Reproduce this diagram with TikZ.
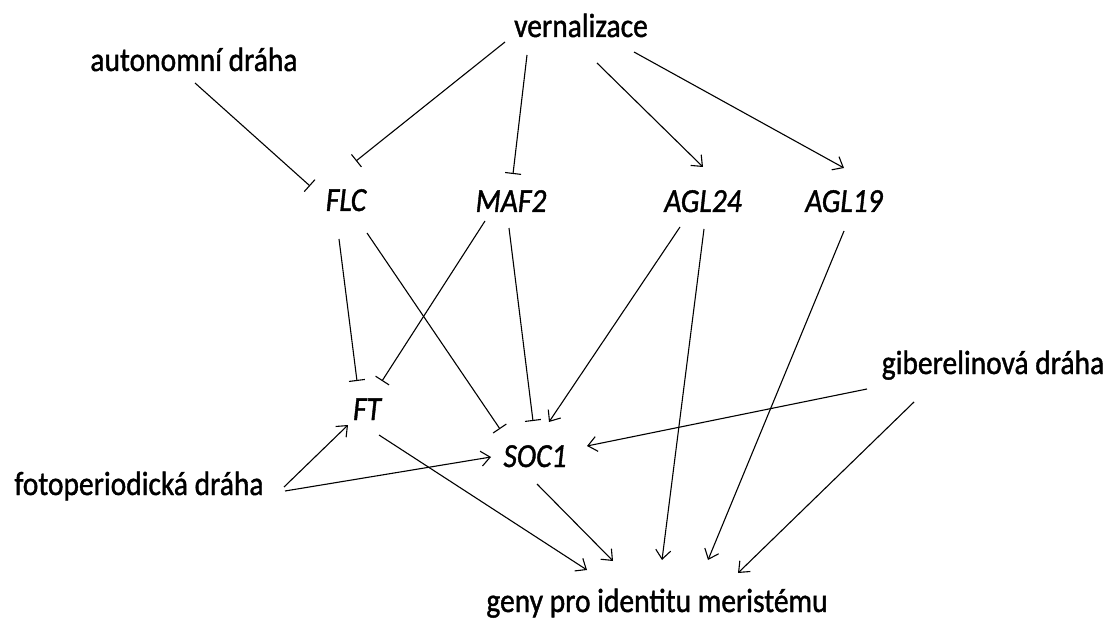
\documentclass[tikz,border=0pt]{standalone}
\usepackage{fontspec}
\setmainfont{Carlito}[FakeBold=1.3]
\usetikzlibrary{arrows.meta}
\newcommand{\vstr}[1]{\scalebox{1}[1.14]{#1}}
\begin{document}
\begin{tikzpicture}[x=1bp,y=-1bp,
  lbl/.style={inner sep=0pt, anchor=base, font=\fontsize{29.6}{34}\selectfont},
  gene/.style={lbl, font=\fontsize{29.6}{34}\selectfont\itshape},
  act/.style={line width=1.1bp, -{Straight Barb[length=9bp,width=15bp,line width=1.1bp]}},
  inh/.style={line width=1.1bp, -{Bar[width=16bp,line width=1.1bp]}}]
\useasboundingbox[fill=white] (0,0) rectangle (1113,623);
% nodes
\node[lbl] (vern) at (581,37) {\vstr{vernalizace}};
\node[lbl] (auto) at (194,71) {\vstr{autonomní dráha}};
\node[gene] (flc) at (346,211) {\vstr{FLC}};
\node[gene] (maf) at (511,212) {\vstr{MAF2}};
\node[gene] (agla) at (703,212) {\vstr{AGL24}};
\node[gene] (aglb) at (844,212) {\vstr{AGL19}};
\node[gene] (ft) at (367,420) {\vstr{FT}};
\node[gene] (soc) at (535,467) {\vstr{SOC1}};
\node[lbl] (gib) at (993,374) {\vstr{giberelinová dráha}};
\node[lbl] (foto) at (139,495) {\vstr{fotoperiodická dráha}};
\node[lbl] (geny) at (657,612) {\vstr{geny pro identitu meristému}};
% connectors
\draw[inh] ([shift={(1,12)}]auto.base) -- ([shift={(-36,-25)}]flc.base);
\draw[inh] ([shift={(-76,5)}]vern.base) -- ([shift={(10,-50)}]flc.base);
\draw[inh] ([shift={(-54,18)}]vern.base) -- ([shift={(2,-38)}]maf.base);
\draw[act] ([shift={(16,26)}]vern.base) -- ([shift={(0,-45)}]agla.base);
\draw[act] ([shift={(53,15)}]vern.base) -- ([shift={(0,-44)}]aglb.base);
\draw[inh] ([shift={(-7,28)}]flc.base) -- ([shift={(-10,-39)}]ft.base);
\draw[inh] ([shift={(-26,9)}]maf.base) -- ([shift={(15,-39)}]ft.base);
\draw[inh] ([shift={(21,22)}]flc.base) -- ([shift={(-35,-38)}]soc.base);
\draw[inh] ([shift={(-2,16)}]maf.base) -- ([shift={(-2,-46)}]soc.base);
\draw[act] ([shift={(-23,15)}]agla.base) -- ([shift={(14,-45)}]soc.base);
\draw[act] ([shift={(1,17)}]agla.base) -- ([shift={(5,-52)}]geny.base);
\draw[act] ([shift={(0,19)}]aglb.base) -- ([shift={(51,-52)}]geny.base);
\draw[act] ([shift={(-126,15)}]gib.base) -- ([shift={(52,-21)}]soc.base);
\draw[act] ([shift={(-79,28)}]gib.base) -- ([shift={(81,-39)}]geny.base);
\draw[act] ([shift={(145,-8)}]foto.base) -- ([shift={(-19,5)}]ft.base);
\draw[act] ([shift={(146,-4)}]foto.base) -- ([shift={(-44,-10)}]soc.base);
\draw[act] ([shift={(12,15)}]ft.base) -- ([shift={(-70,-42)}]geny.base);
\draw[act] ([shift={(2,17)}]soc.base) -- ([shift={(-44,-51)}]geny.base);
\end{tikzpicture}
\end{document}
